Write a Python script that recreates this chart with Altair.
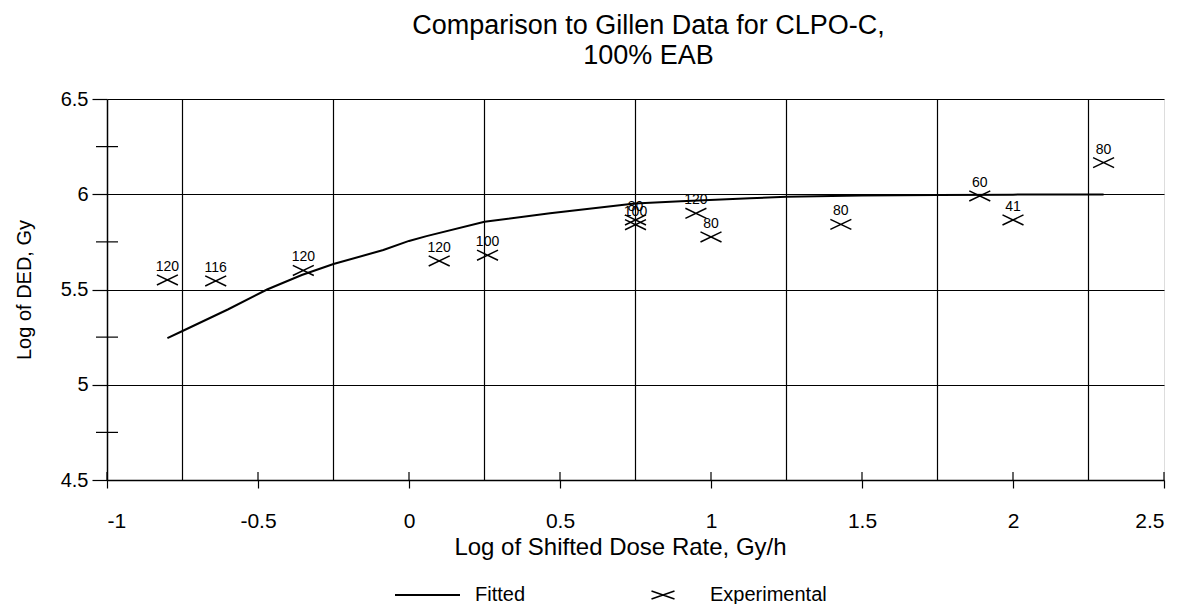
import altair as alt
import pandas as pd

# ---- data ----
fit_x = [-0.80, -0.75, -0.60, -0.47, -0.355, -0.25, -0.085, 0.0, 0.058, 0.25, 0.467, 0.748, 0.90, 1.129, 1.25, 1.50, 1.75, 2.00, 2.30]
fit_y = [5.245, 5.282, 5.395, 5.50, 5.576, 5.634, 5.707, 5.755, 5.78, 5.856, 5.90, 5.952, 5.963, 5.979, 5.987, 5.993, 5.996, 5.998, 5.999]

exp_x = [-0.80, -0.64, -0.35, 0.10, 0.26, 0.75, 0.75, 0.95, 1.00, 1.43, 1.89, 2.00, 2.30]
exp_y = [5.55, 5.545, 5.60, 5.65, 5.68, 5.865, 5.84, 5.90, 5.776, 5.842, 5.991, 5.865, 6.166]
exp_labels = ["120", "116", "120", "120", "100", "80", "100", "120", "80", "80", "60", "41", "80"]

x_ticks = [-1, -0.5, 0, 0.5, 1, 1.5, 2, 2.5]
x_grid = [-0.75, -0.25, 0.25, 0.75, 1.25, 1.75, 2.25]
y_ticks = [4.5, 5, 5.5, 6, 6.5]
y_minor = [4.75, 5.25, 5.75, 6.25]

title_lines = ["Comparison to Gillen Data for CLPO-C,", "100% EAB"]
x_title = "Log of Shifted Dose Rate, Gy/h"
y_title = "Log of DED, Gy"
legend_labels = ["Fitted", "Experimental"]

# ---- layout / style ----
W, H = 1057, 381
FONT = "Liberation Sans"
XSHAPE = "M-1,-0.48L1,0.48M-1,0.48L1,-0.48"
LSHAPE = "M-1,-0.35L1,0.35M-1,0.35L1,-0.35"

xs = alt.Scale(domain=[-1, 2.5], nice=False, zero=False)
ys = alt.Scale(domain=[4.5, 6.5], nice=False, zero=False)

x_axis = alt.Axis(values=x_ticks, title=x_title, labelExpr="toString(datum.value)",
                  grid=False, tickSize=8, tickColor="black", tickWidth=1.2,
                  domainColor="black", domainWidth=1.5,
                  labelFont=FONT, labelFontSize=21, labelColor="black", labelPadding=22,
                  titleFont=FONT, titleFontSize=24, titleFontWeight="normal",
                  titleColor="black", titlePadding=4, titleX=513)
y_axis = alt.Axis(values=y_ticks, title=y_title, labelExpr="toString(datum.value)",
                  grid=True, gridColor="black", gridWidth=1.2, gridOpacity=1,
                  tickSize=15, tickColor="black", tickWidth=1.2,
                  domainColor="black", domainWidth=1.5,
                  labelFont=FONT, labelFontSize=20, labelColor="black", labelPadding=4,
                  titleFont=FONT, titleFontSize=20, titleFontWeight="normal",
                  titleColor="black", titlePadding=26)

X = alt.X("x:Q", scale=xs, axis=x_axis)
Y = alt.Y("y:Q", scale=ys, axis=y_axis)

fit = pd.DataFrame({"x": fit_x, "y": fit_y})
exp = pd.DataFrame({"x": exp_x, "y": exp_y, "label": exp_labels})

vgrid = alt.Chart(pd.DataFrame({"x": x_grid})).mark_rule(
    color="black", strokeWidth=1.2).encode(x=X)

xticks_in = alt.Chart(pd.DataFrame({"x": x_ticks})).mark_rule(
    color="black", strokeWidth=1.2).encode(x=X, y=alt.value(H - 8), y2=alt.value(H))

yminor = alt.Chart(pd.DataFrame({"y": y_minor})).mark_rule(
    color="black", strokeWidth=1.2).encode(y=Y, x=alt.value(-11), x2=alt.value(11))

line = alt.Chart(fit).mark_line(color="black", strokeWidth=2).encode(x=X, y=Y)

pts = alt.Chart(exp).mark_point(shape=XSHAPE, size=441, filled=False,
                                color="black", strokeWidth=1.5, opacity=1).encode(x=X, y=Y)

lbls = alt.Chart(exp).mark_text(font=FONT, fontSize=14, color="black", dy=-13).encode(
    x=X, y=Y, text="label:N")

# legend (below the plot)
LY = 496
leg_line = alt.Chart(pd.DataFrame({"label": [legend_labels[0]]})).mark_rule(
    color="black", strokeWidth=2).encode(x=alt.value(288), x2=alt.value(353), y=alt.value(LY))
leg_t1 = alt.Chart(pd.DataFrame({"label": [legend_labels[0]]})).mark_text(
    font=FONT, fontSize=20, color="black", align="left", baseline="middle").encode(
    x=alt.value(368), y=alt.value(LY), text="label:N")
leg_pt = alt.Chart(pd.DataFrame({"label": [legend_labels[1]]})).mark_point(
    shape=LSHAPE, size=529, filled=False, color="black", strokeWidth=1.5, opacity=1).encode(
    x=alt.value(556), y=alt.value(LY))
leg_t2 = alt.Chart(pd.DataFrame({"label": [legend_labels[1]]})).mark_text(
    font=FONT, fontSize=20, color="black", align="left", baseline="middle").encode(
    x=alt.value(603), y=alt.value(LY), text="label:N")

chart = alt.layer(vgrid, xticks_in, yminor, line, pts, lbls,
                  leg_line, leg_t1, leg_pt, leg_t2).properties(
    width=W, height=H,
    title=alt.TitleParams(text=title_lines, font=FONT, fontSize=27, fontWeight="normal",
                          color="black", anchor="middle", offset=19, lineHeight=30, dx=13),
    autosize=alt.AutoSizeParams(type="none"),
    padding={"left": 99, "top": 91, "right": 17, "bottom": 124},
).configure_view(stroke="black", strokeWidth=1.5).configure(background="white")

chart.save("out.html", embed_options={"renderer": "svg", "actions": False})
